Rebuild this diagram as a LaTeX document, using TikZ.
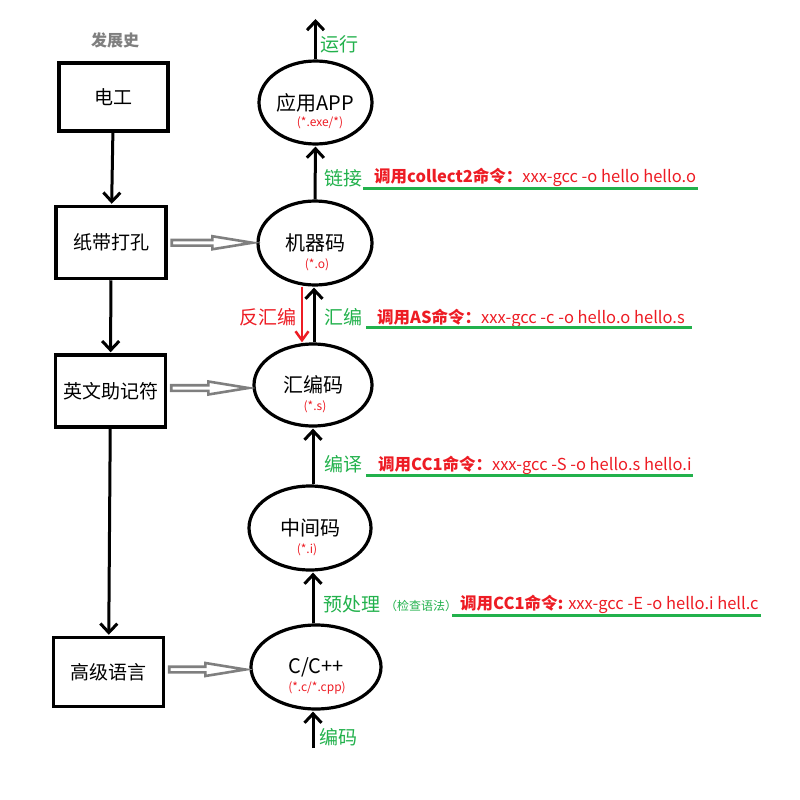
\documentclass[tikz,border=0pt]{standalone}
\usepackage{fontspec}
\setmainfont{Noto Sans CJK SC}
\usetikzlibrary{arrows.meta,shapes.geometric,calc}
\definecolor{pgreen}{RGB}{34,177,76}
\definecolor{pred}{RGB}{237,28,36}
\definecolor{pgray}{RGB}{127,127,127}
\newcommand\fsz[1]{\fontsize{#1}{#1}\selectfont}
% hollow gray arrow from a box to a stage ellipse
\newcommand\hollowarrow[2]{%
  \draw[hollow] let \p1=(#1.east), \p2=(#2.west), \p3=($(#1.east)!.5!(#2.west)$) in
    (\x1+4pt,\y3+2.8pt) -- (\x2-44pt,\y3+2.8pt) -- (\x2-44pt,\y3+6.5pt) -- (\x2-4pt,\y3)
    -- (\x2-44pt,\y3-6.5pt) -- (\x2-44pt,\y3-2.8pt) -- (\x1+4pt,\y3-2.8pt) -- cycle;}
\begin{document}
\begin{tikzpicture}[x=1pt,y=-1pt,
  era/.style={draw, line width=3.5pt, inner sep=0, font=\fsz{19}},
  stage/.style={draw, ellipse, line width=3.2pt, inner sep=0, font=\fsz{20}},
  ext/.style={font=\fsz{12}, text=pred, inner sep=0},
  flow/.style={line width=3pt, -{Straight Barb[length=9pt,width=17pt]}, shorten >=1pt},
  back/.style={line width=2.5pt, draw=pred, -{Straight Barb[length=9pt,width=13pt]}},
  hollow/.style={draw=pgray, line width=2.6pt, fill=white, line join=miter},
  step label/.style={font=\fsz{19}, text=pgreen, inner sep=0},
  cmd/.style={font=\fsz{16.5}, text=pred, inner sep=0, anchor=west},
  uline/.style={draw=pgreen, line width=3pt},
]
\path[use as bounding box] (0,0) rectangle (800,800);

% history column
\node[font=\fsz{16}\bfseries, text=pgray] (hist) at (115,40) {发展史};
\node[era, minimum width=109, minimum height=68] (e1) at (113.5,97) {电工};
\node[era, minimum width=110, minimum height=72] (e2) at (111,242.5) {纸带打孔};
\node[era, minimum width=110, minimum height=72] (e3) at (110.5,391) {英文助记符};
\node[era, minimum width=110, minimum height=69] (e4) at (108.5,672) {高级语言};
\draw[flow] (e1) -- (e2);
\draw[flow] (e2) -- (e3);
\draw[flow] (e3) -- (e4);

% build stages
\node[stage, minimum width=113, minimum height=83] (app) at (315.5,102.5) {应用APP};
\node[stage, minimum width=114, minimum height=84] (mc)  at (315,243) {机器码};
\node[stage, minimum width=118, minimum height=82] (asm) at (313,385) {汇编码};
\node[stage, minimum width=122, minimum height=84] (mid) at (310,528) {中间码};
\node[stage, minimum width=130, minimum height=84] (cpp) at (316,667) {C/C++};
\node[ext] (appx) at (320,123) {(*.exe/*)};
\node[ext] (mcx)  at (317,265) {(*.o)};
\node[ext] (asmx) at (315,407) {(*.s)};
\node[ext] (midx) at (307,550) {(*.i)};
\node[ext] (cppx) at (317,688) {(*.c/*.cpp)};

\hollowarrow{e2}{mc}
\hollowarrow{e3}{asm}
\hollowarrow{e4}{cpp}

\coordinate (runtop) at (315.5,18);
\coordinate (srcbot) at (313,748);
\draw[flow] (app.north) -- (runtop);
\draw[flow] (mc.north) -- (app.south);
\draw[flow] ([xshift=1pt]asm.north) -- ([xshift=-1pt]mc.south);
\draw[back] ([xshift=-13pt]mc.south) -- ([xshift=-11pt]asm.north);
\draw[flow] ([xshift=3pt]mid.north) -- (asm.south);
\draw[flow] ([xshift=-3pt]cpp.north) -- ([xshift=3pt]mid.south);
\draw[flow] (srcbot) -- ([xshift=-3pt]cpp.south);

% step labels
\node[step label] (run)  at (339,44)  {运行};
\node[step label] (link) at (343,178) {链接};
\node[step label] (as)   at (343,317) {汇编};
\node[font=\fsz{19}, text=pred, inner sep=0] (dis) at (268,317) {反汇编};
\node[step label] (cc)   at (343,464) {编译};
\node[step label] (pre)  at (352,604) {预处理};
\node[font=\fsz{12}, text=pgreen, inner sep=0] (prex) at (421,606) {（检查语法）};
\node[step label] (edit) at (338,737) {编码};

% tool commands
\node[cmd] (c1) at (374,177) {\textbf{调用collect2命令：}xxx-gcc -o hello hello.o};
\node[cmd] (c2) at (377,318) {\textbf{调用AS命令：}xxx-gcc -c -o hello.o hello.s};
\node[cmd] (c3) at (378,465) {\textbf{调用CC1命令：}xxx-gcc -S -o hello.s hello.i};
\node[cmd] (c4) at (460,604) {\textbf{调用CC1命令:} xxx-gcc -E -o hello.i hell.c};
\coordinate (u1a) at (363,188); \coordinate (u1b) at (698,188);
\coordinate (u2a) at (366,327); \coordinate (u2b) at (692,327);
\coordinate (u3a) at (366,475); \coordinate (u3b) at (693,475);
\coordinate (u4a) at (452,615); \coordinate (u4b) at (761,615);
\draw[uline] (u1a) -- (u1b);
\draw[uline] (u2a) -- (u2b);
\draw[uline] (u3a) -- (u3b);
\draw[uline] (u4a) -- (u4b);
\end{tikzpicture}
\end{document}
